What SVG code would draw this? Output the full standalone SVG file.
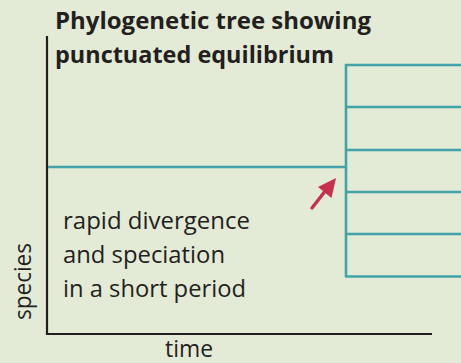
<svg xmlns="http://www.w3.org/2000/svg" width="461" height="363" viewBox="0 0 461 363">
<defs>
<style>
.ax{stroke:#231f20;stroke-width:2.2;fill:none}
.br{stroke:#41a4a9;stroke-width:2.6;fill:none}
.t{font-family:"Open Sans","Noto Sans",sans-serif;fill:#231f20}
.title{font-weight:bold;font-size:23.5px}
.lab{font-size:23px}
</style>
</defs>
<rect width="461" height="363" fill="#e3ead6"/>
<g id="axes">
<path class="ax" d="M47,36 V334 H432"/>
</g>
<g id="connectors">
<path class="br" d="M48,167 H345"/>
<path class="br" d="M346,64 V277"/>
<path class="br" d="M345,65 H461 M345,107 H461 M345,150 H461 M345,192 H461 M345,234 H461 M345,276.5 H461"/>
<g id="arrow">
<path d="M312,208 L326,190" stroke="#c8304f" stroke-width="3.4" stroke-linecap="round"/>
<polygon points="336,178 331.5,198 318,187" fill="#c8304f"/>
</g>
</g>
<g id="title">
<text class="t title" x="55" y="29" textLength="316" lengthAdjust="spacingAndGlyphs">Phylogenetic tree showing</text>
<text class="t title" x="55" y="63" textLength="279" lengthAdjust="spacingAndGlyphs">punctuated equilibrium</text>
</g>
<g id="note">
<text class="t lab" x="63" y="229" textLength="187" lengthAdjust="spacingAndGlyphs">rapid divergence</text>
<text class="t lab" x="63" y="263" textLength="162" lengthAdjust="spacingAndGlyphs">and speciation</text>
<text class="t lab" x="63" y="297" textLength="183" lengthAdjust="spacingAndGlyphs">in a short period</text>
</g>
<g id="ylabel">
<text class="t lab" transform="translate(31,281.5) rotate(-90)" text-anchor="middle" textLength="77" lengthAdjust="spacingAndGlyphs">species</text>
</g>
<g id="xlabel">
<text class="t lab" x="189" y="356.5" text-anchor="middle" textLength="48" lengthAdjust="spacingAndGlyphs">time</text>
</g>
</svg>
